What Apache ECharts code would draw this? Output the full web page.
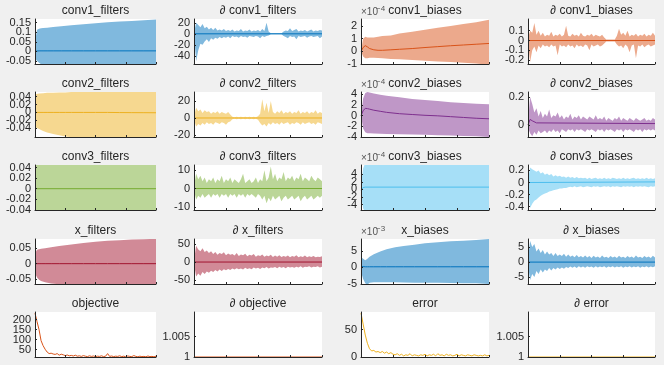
<!DOCTYPE html>
<html><head><meta charset="utf-8">
<script src="https://cdn.jsdelivr.net/npm/echarts@6/dist/echarts.min.js"></script>
<style>html,body{margin:0;padding:0;background:#f0f0f0}#c{width:664px;height:365px}</style>
</head><body><div id="c"></div>
<script>
// ---------- data ----------
const xN = [0,1,2,3,4,5,6,7,8,9,10,11,12,13,14,15,16,17,18,19,20,21,22,23,24,25,26,27,28,29,30,31,32,33,34,35,36,37,38,39,40,41,42,43,44,45,46,47,48,49,50,51,52,53,54,55,56,57,58,59,60];

// conv1_filters
const c1fX = [0,1,2,3,4,6,9,13,18,24,30,36,42,48,54,60];
const c1fHi = [0.05,0.112,0.118,0.12,0.121,0.123,0.126,0.13,0.135,0.141,0.146,0.151,0.155,0.158,0.161,0.165];
const c1fLo = [-0.034,-0.05,-0.058,-0.066,-0.07,-0.072,-0.075,-0.078,-0.08,-0.082,-0.084,-0.086,-0.088,-0.09,-0.092,-0.094];
const c1fMean = [0,0.002,0.003,0.003,0.003,0.003,0.003,0.003,0.003,0.003,0.003,0.003,0.003,0.003,0.003,0.003];
// d conv1_filters
const dc1fHi = [2,20,16,12,18,10,13,8,11,7,11,6,8,6,9,5,7,5,8,4,6,5,9,4,6,5,8,4,6,5,7,4,9,5,20,4,1,1,1,1,1,1,4,6,5,10,5,7,9,4,6,5,7,4,6,8,4,6,5,7,6];
const dc1fLo = [-2,-50,-30,-18,-20,-14,-10,-15,-8,-11,-7,-9,-6,-8,-6,-7,-5,-8,-4,-6,-5,-7,-4,-6,-5,-7,-4,-5,-6,-4,-5,-8,-4,-6,-4,-3,-1,-1,-1,-1,-1,-1,-4,-6,-8,-4,-6,-5,-10,-4,-6,-5,-4,-7,-5,-4,-6,-5,-4,-8,-5];
const dMeanX = [0,60];
const dc1fMean = [0,0];
// conv1_biases (x1e-4)
const c1bX = [0,1,2,3,4,6,8,10,14,18,24,30,36,42,48,54,60];
const c1bHi = [0,1.0,1.15,1.1,1.1,1.1,1.15,1.2,1.25,1.4,1.55,1.7,1.85,2.0,2.15,2.3,2.5];
const c1bLo = [0,-0.4,-0.55,-0.55,-0.5,-0.5,-0.52,-0.55,-0.6,-0.63,-0.68,-0.74,-0.8,-0.85,-0.9,-0.97,-1.05];
const c1bMean = [0,0.3,0.45,0.35,0.22,0.12,0.08,0.08,0.12,0.16,0.22,0.3,0.37,0.44,0.5,0.56,0.62];
// d conv1_biases
const dc1bHi = [0.02,0.1,0.08,0.18,0.06,0.1,0.05,0.08,0.04,0.06,0.05,0.09,0.04,0.06,0.05,0.07,0.04,0.06,0.15,0.05,0.04,0.07,0.05,0.06,0.04,0.08,0.05,0.04,0.06,0.05,0.07,0.04,0.06,0.05,0.04,0.06,0.03,0.01,0.01,0.01,0.01,0.01,0.05,0.12,0.06,0.08,0.05,0.1,0.04,0.06,0.05,0.07,0.04,0.06,0.05,0.07,0.04,0.06,0.05,0.08,0.05];
const dc1bLo = [-0.02,-0.22,-0.1,-0.06,-0.12,-0.05,-0.08,-0.04,-0.06,-0.05,-0.07,-0.04,-0.06,-0.05,-0.15,-0.04,-0.06,-0.05,-0.07,-0.04,-0.06,-0.05,-0.08,-0.04,-0.06,-0.05,-0.07,-0.04,-0.05,-0.1,-0.04,-0.06,-0.05,-0.04,-0.06,-0.05,-0.03,-0.01,-0.01,-0.01,-0.01,-0.01,-0.04,-0.06,-0.05,-0.08,-0.04,-0.06,-0.12,-0.05,-0.04,-0.18,-0.05,-0.06,-0.04,-0.07,-0.05,-0.04,-0.06,-0.05,-0.04];
const dc1bMean = [0,0];

// conv2_filters
const c2fX = [0,2,4,6,9,12,15,18,24,30,36,42,48,54,60];
const c2fHi = [0.046,0.048,0.049,0.05,0.05,0.051,0.051,0.052,0.053,0.054,0.054,0.055,0.055,0.056,0.056];
const c2fLo = [-0.037,-0.042,-0.047,-0.051,-0.055,-0.058,-0.061,-0.063,-0.066,-0.068,-0.07,-0.07,-0.07,-0.07,-0.07];
const c2fMean = [0,0,0,0,0,0,0,0,0,0,0,-0.0003,-0.0005,-0.0006,-0.0008];
// d conv2_filters
const dc2fHi = [2,12,8,10,6,9,7,8,5,7,6,8,5,7,6,5,7,4,1.5,1,1.5,1,1.5,1,1.5,1,1.5,1,1.5,1,2,5,22,8,18,6,20,7,5,8,6,9,5,7,6,8,5,7,6,9,5,7,6,8,5,7,6,9,5,7,6];
const dc2fLo = [-2,-10,-7,-9,-6,-8,-5,-7,-6,-8,-5,-6,-7,-5,-6,-8,-5,-4,-1.5,-1,-1.5,-1,-1.5,-1,-1.5,-1,-1.5,-1,-1.5,-1,-2,-6,-9,-7,-10,-6,-8,-5,-7,-6,-8,-5,-7,-6,-5,-8,-6,-7,-5,-6,-8,-5,-7,-6,-5,-7,-6,-8,-5,-6,-7];
const dc2fMean = [0,0];
// conv2_biases (x1e-4)
const c2bX = [0,1,2,3,4,6,9,12,18,24,30,36,42,48,54,60];
const c2bHi = [0,3.2,4.2,4.4,4.3,4.1,3.9,3.7,3.4,3.1,2.9,2.7,2.5,2.35,2.2,2.1];
const c2bLo = [0,-2.4,-3.1,-3.3,-3.3,-3.35,-3.4,-3.45,-3.5,-3.55,-3.6,-3.65,-3.7,-3.8,-3.85,-3.95];
const c2bMean = [0,0.9,1.35,1.3,1.2,1.0,0.8,0.6,0.35,0.2,0.05,-0.05,-0.2,-0.35,-0.5,-0.6];
// d conv2_biases
const dc2bHi = [0.02,0.2,0.15,0.09,0.12,0.06,0.1,0.05,0.08,0.06,0.11,0.05,0.07,0.06,0.09,0.05,0.07,0.04,0.06,0.05,0.08,0.04,0.06,0.05,0.07,0.04,0.06,0.05,0.04,0.06,0.05,0.04,0.07,0.04,0.05,0.04,0.06,0.03,0.05,0.04,0.03,0.05,0.04,0.06,0.03,0.05,0.04,0.03,0.05,0.04,0.03,0.05,0.04,0.03,0.04,0.05,0.03,0.04,0.03,0.05,0.04];
const dc2bLo = [-0.02,-0.06,-0.08,-0.05,-0.07,-0.04,-0.06,-0.05,-0.04,-0.06,-0.04,-0.05,-0.03,-0.05,-0.04,-0.06,-0.03,-0.04,-0.05,-0.03,-0.04,-0.03,-0.05,-0.03,-0.04,-0.03,-0.04,-0.05,-0.03,-0.04,-0.03,-0.04,-0.05,-0.03,-0.04,-0.03,-0.05,-0.03,-0.04,-0.03,-0.04,-0.05,-0.03,-0.04,-0.03,-0.05,-0.03,-0.04,-0.03,-0.04,-0.05,-0.03,-0.04,-0.03,-0.05,-0.03,-0.04,-0.03,-0.04,-0.03,-0.04];
const dc2bMX = [0,1,2,4,60];
const dc2bMean = [0,0.04,0.03,0.015,0.01];

// conv3_filters
const c3fX = [0,1,60];
const c3fHi = [0.046,0.05,0.05];
const c3fLo = [-0.045,-0.05,-0.05];
const c3fMean = [0,0,0];
// d conv3_filters
const dc3fHi = [1,8,5,7,4,6,3,5,4,6,3,5,4,7,3,5,4,6,3,5,4,3,5,8,3,4,5,3,4,6,3,5,4,10,4,6,12,5,8,4,6,5,9,4,6,5,7,4,6,5,8,4,6,5,4,7,5,4,6,5,4];
const dc3fLo = [-1,-6,-4,-5,-3,-5,-4,-3,-5,-3,-4,-3,-5,-3,-4,-3,-5,-3,-4,-3,-5,-3,-4,-3,-5,-3,-4,-3,-4,-5,-3,-4,-6,-4,-8,-5,-7,-4,-6,-5,-4,-7,-5,-4,-6,-5,-4,-6,-5,-4,-7,-5,-4,-6,-5,-4,-6,-5,-4,-5,-4];
const dc3fMean = [0,0];
// conv3_biases (x1e-4)
const c3bX = [0,1,2,60];
const c3bHi = [1.5,5.5,7,7];
const c3bLo = [-1.5,-5,-6,-6];
const c3bMean = [-0.2,0.5,0.6,0.6];
// d conv3_biases
const dc3bHi = [0.05,0.25,0.22,0.2,0.18,0.2,0.15,0.17,0.13,0.15,0.12,0.14,0.1,0.12,0.1,0.11,0.09,0.1,0.08,0.1,0.08,0.09,0.07,0.09,0.07,0.08,0.07,0.08,0.06,0.08,0.06,0.07,0.08,0.06,0.07,0.06,0.08,0.06,0.07,0.06,0.08,0.07,0.06,0.07,0.06,0.08,0.06,0.07,0.06,0.07,0.08,0.06,0.07,0.06,0.07,0.06,0.08,0.06,0.07,0.06,0.07];
const dc3bLo = [-0.1,-0.42,-0.35,-0.3,-0.28,-0.25,-0.22,-0.2,-0.18,-0.17,-0.15,-0.14,-0.13,-0.12,-0.11,-0.1,-0.1,-0.09,-0.09,-0.08,-0.07,-0.08,-0.06,-0.08,-0.07,-0.06,-0.08,-0.07,-0.06,-0.07,-0.08,-0.06,-0.07,-0.06,-0.08,-0.07,-0.06,-0.07,-0.06,-0.08,-0.06,-0.07,-0.06,-0.07,-0.08,-0.06,-0.07,-0.06,-0.07,-0.06,-0.08,-0.06,-0.07,-0.06,-0.07,-0.06,-0.07,-0.08,-0.06,-0.07,-0.06];
const dc3bMean = [0,0.01];

// x_filters
const xfX = [0,1,2,3,5,8,12,18,24,30,36,42,48,54,60];
const xfHi = [0.033,0.045,0.047,0.048,0.05,0.053,0.057,0.062,0.067,0.071,0.074,0.076,0.078,0.079,0.081];
const xfLo = [-0.03,-0.045,-0.052,-0.056,-0.06,-0.064,-0.067,-0.07,-0.07,-0.07,-0.07,-0.07,-0.07,-0.07,-0.07];
const xfMean = [0,0,0,0,0,0,0,0,0,0,0,0,0,0,0];
// d x_filters
const dxfHi = [5,45,35,30,38,28,32,25,30,22,28,20,25,22,27,19,24,20,22,18,25,17,21,19,23,16,20,18,22,15,19,17,21,15,18,16,20,14,18,15,19,14,17,15,18,13,17,15,19,13,16,14,18,13,16,14,17,13,15,14,16];
const dxfLo = [-5,-40,-32,-38,-28,-33,-26,-30,-24,-28,-22,-26,-21,-25,-20,-23,-19,-22,-18,-21,-17,-20,-18,-21,-16,-19,-17,-20,-15,-18,-16,-19,-15,-17,-14,-18,-15,-16,-14,-17,-13,-16,-14,-17,-13,-15,-14,-16,-13,-15,-12,-16,-13,-14,-12,-15,-13,-14,-12,-15,-13];
const dxfMean = [0,0];
// x_biases (x1e-3)
const xbX = [0,1,2,3,4,6,9,12,16,20,25,30,36,42,48,54,60];
const xbHi = [3.1,2.6,2.2,2.6,3.2,4.0,4.8,5.5,6.1,6.5,6.9,7.3,7.6,7.9,8.1,8.3,8.6];
const xbLo = [-1.2,-3.5,-4.8,-5.2,-4.6,-4.5,-4.5,-4.5,-4.5,-4.55,-4.6,-4.6,-4.65,-4.7,-4.75,-4.8,-4.9];
const xbMean = [0.3,0.25,0.2,0.2,0.2,0.2,0.2,0.2,0.2,0.2,0.2,0.2,0.2,0.2,0.2,0.2,0.2];
// d x_biases
const dxbHi = [1,7,5,6,3.5,4.5,3,4,2.5,3.5,2.5,3,2,3,2,2.5,2,2.8,1.8,2.5,1.8,2.2,1.6,2.4,1.6,2,1.5,2.2,1.5,2,1.4,2.1,1.5,1.9,1.4,2.2,1.5,1.8,1.4,2,1.5,1.9,1.4,2.1,1.5,1.8,1.4,2,1.5,1.9,1.4,2.2,1.5,1.8,1.4,2,1.5,1.9,1.4,2.1,1.5];
const dxbLo = [-1,-6,-4,-5,-3,-4,-2.5,-3.5,-2.5,-3,-2,-2.8,-2,-2.5,-1.8,-2.3,-1.8,-2.2,-1.6,-2,-1.5,-1.9,-1.5,-2,-1.4,-1.8,-1.5,-1.9,-1.4,-1.7,-1.5,-1.9,-1.4,-1.8,-1.5,-1.7,-1.4,-1.9,-1.5,-1.7,-1.4,-1.8,-1.5,-1.7,-1.4,-1.9,-1.5,-1.7,-1.4,-1.8,-1.5,-1.7,-1.4,-1.9,-1.5,-1.7,-1.4,-1.8,-1.5,-1.7,-1.4];
const dxbMean = [0,0];

// objective / error
const objective = [232,190,150,95,70,52,38,30,32,28,26,30,22,27,24,20,23,19,21,18,22,17,19,16,20,17,15,19,16,18,15,17,16,19,15,17,30,16,18,15,17,16,19,15,17,14,18,16,15,20,16,14,17,15,16,14,18,15,16,14,17];
const dObjective = [1,1];
const errorVals = [80,60,40,25,15,11,12,9,10,8,10,7,9,6,8,5,4,6,3,5,2,4,3,6,2,4,3,2,4,3,5,2,4,3,5,2,6,3,4,2,5,3,4,2,3,5,2,4,3,2,4,3,2,4,3,2,3,2,4,2,3];
const dError = [1,1];

// tick labels
const ticks = [
  [[-0.05,0,0.05,0.1,0.15],[-40,-20,0,20],[-1,0,1,2],[-0.2,-0.1,0,0.1]],
  [[-0.04,-0.02,0,0.02,0.04],[-20,0,20],[-4,-2,0,2,4],[0,0.2]],
  [[-0.04,-0.02,0,0.02,0.04],[-10,0,10],[-4,-2,0,2,4],[-0.4,-0.2,0,0.2]],
  [[-0.05,0,0.05],[-50,0,50],[-5,0,5],[-5,0,5]],
  [[50,100,150,200],[1,1.005],[0,50],[1,1.005]]
];
const titles = [
  ['conv1_filters','\u2202 conv1_filters','conv1_biases','\u2202 conv1_biases'],
  ['conv2_filters','\u2202 conv2_filters','conv2_biases','\u2202 conv2_biases'],
  ['conv3_filters','\u2202 conv3_filters','conv3_biases','\u2202 conv3_biases'],
  ['x_filters','\u2202 x_filters','x_biases','\u2202 x_biases'],
  ['objective','\u2202 objective','error','\u2202 error']
];
const exps = ['\u22124','\u22124','\u22124','\u22123'];

// ---------- layout / style ----------
const colL = [35,194,361,528], colW = [121,128,128,127];
const rowT = [19,92,165,239,312], rowH = 45;
const ranges = [
  [[-0.065,0.168],[-55,27],[-1,2.55],[-0.24,0.22]],
  [[-0.0625,0.052],[-22.4,30.6],[-4,4.4],[-0.086,0.236]],
  [[-0.0403,0.0448],[-11.7,12.8],[-5.4,6.4],[-0.455,0.29]],
  [[-0.066,0.08],[-61,64],[-5,8.6],[-7.3,7.7]],
  [[13,238],[1,1.011],[0,82],[1,1.011]]
];
const C = {blue:'#0072BD',orange:'#D95319',yellow:'#EDB120',purple:'#7E2F8E',green:'#77AC30',lblue:'#4DBEEE',red:'#A2142F'};
const F = {blue:'#80b9de',orange:'#eca98c',yellow:'#f6d890',purple:'#bf97c7',green:'#bbd698',lblue:'#a6dff7',red:'#d18a97'};
const TXT = '#262626', FONT = 'Liberation Sans';

function txt(x, y, text, size, align, fill){
  return {type:'text', x:x, y:y, z:20, silent:true, style:{text:text, fill:fill||TXT, font:size+'px "'+FONT+'"', align:align, verticalAlign:'middle', textAlign:align, textVerticalAlign:'middle'}};
}
const grids=[], xAxes=[], yAxes=[], series=[], graphic=[];
for (let r=0;r<5;r++) for (let c=0;c<4;c++){
  const gi = r*4+c;
  grids.push({left:colL[c], top:rowT[r], width:colW[c], height:rowH, backgroundColor:'#fff', show:true, borderWidth:0});
  xAxes.push({type:'value', gridIndex:gi, min:0, max:60, interval:15, z:10,
    axisLine:{onZero:false, lineStyle:{color:TXT,width:1}},
    axisTick:{inside:true,length:2,lineStyle:{color:TXT}}, axisLabel:{show:false}, splitLine:{show:false}});
  yAxes.push({type:'value', gridIndex:gi, min:ranges[r][c][0], max:ranges[r][c][1], z:10,
    axisLine:{show:true,onZero:false,lineStyle:{color:TXT,width:1}},
    axisTick:{show:true,inside:true,length:2,customValues:ticks[r][c],lineStyle:{color:TXT}},
    axisLabel:{show:false},
    splitLine:{show:false}});
  graphic.push(txt(colL[c]+colW[c]/2, rowT[r]-8.5, titles[r][c], 12, 'center'));
  if (c===2 && r<4){
    graphic.push(txt(colL[2], rowT[r]-6.5, '\u00d710', 10, 'left', '#555'));
    graphic.push(txt(colL[2]+15, rowT[r]-10, exps[r], 8, 'left', '#555'));
  }
}
function pairs(xs, ys){ return xs.map((x,i)=>[x, ys[i]]); }
function band(gi, xs, lo, hi, mx, mean, key){
  series.push({type:'line', xAxisIndex:gi, yAxisIndex:gi, data:pairs(xs,hi), symbol:'none', lineStyle:{width:0,opacity:0}, areaStyle:{color:F[key], opacity:1, origin:'start'}, silent:true, z:2});
  series.push({type:'line', xAxisIndex:gi, yAxisIndex:gi, data:pairs(xs,lo), symbol:'none', lineStyle:{width:0,opacity:0}, areaStyle:{color:'#ffffff', opacity:1, origin:'start'}, silent:true, z:3});
  series.push({type:'line', xAxisIndex:gi, yAxisIndex:gi, data:pairs(mx,mean), symbol:'none', lineStyle:{color:C[key],width:1}, silent:true, z:4});
}
function line(gi, xs, ys, key){
  series.push({type:'line', xAxisIndex:gi, yAxisIndex:gi, data:pairs(xs,ys), symbol:'none', lineStyle:{color:C[key],width:1}, silent:true, z:4});
}
band(0, c1fX, c1fLo, c1fHi, c1fX, c1fMean, 'blue');
band(1, xN, dc1fLo, dc1fHi, dMeanX, dc1fMean, 'blue');
band(2, c1bX, c1bLo, c1bHi, c1bX, c1bMean, 'orange');
band(3, xN, dc1bLo, dc1bHi, dMeanX, dc1bMean, 'orange');
band(4, c2fX, c2fLo, c2fHi, c2fX, c2fMean, 'yellow');
band(5, xN, dc2fLo, dc2fHi, dMeanX, dc2fMean, 'yellow');
band(6, c2bX, c2bLo, c2bHi, c2bX, c2bMean, 'purple');
band(7, xN, dc2bLo, dc2bHi, dc2bMX, dc2bMean, 'purple');
band(8, c3fX, c3fLo, c3fHi, c3fX, c3fMean, 'green');
band(9, xN, dc3fLo, dc3fHi, dMeanX, dc3fMean, 'green');
band(10, c3bX, c3bLo, c3bHi, c3bX, c3bMean, 'lblue');
band(11, xN, dc3bLo, dc3bHi, dMeanX, dc3bMean, 'lblue');
band(12, xfX, xfLo, xfHi, xfX, xfMean, 'red');
band(13, xN, dxfLo, dxfHi, dMeanX, dxfMean, 'red');
band(14, xbX, xbLo, xbHi, xbX, xbMean, 'blue');
band(15, xN, dxbLo, dxbHi, dMeanX, dxbMean, 'blue');
line(16, xN, objective, 'orange');
line(17, dMeanX, dObjective, 'orange');
line(18, xN, errorVals, 'yellow');
line(19, dMeanX, dError, 'yellow');

const chart = echarts.init(document.getElementById('c'), null, {renderer:'canvas'});
chart.setOption({backgroundColor:'#f0f0f0', animation:false, grid:grids, xAxis:xAxes, yAxis:yAxes, series:series, graphic:graphic});
// tick labels placed through the library's own y scales
const labels = [];
for (let r=0;r<5;r++) for (let c=0;c<4;c++){
  const gi = r*4+c;
  ticks[r][c].forEach(v=>{
    const py = chart.convertToPixel({yAxisIndex:gi}, v);
    labels.push(txt(colL[c]-4, py, String(v), 11, 'right'));
  });
}
chart.setOption({graphic: graphic.concat(labels)});
</script></body></html>
